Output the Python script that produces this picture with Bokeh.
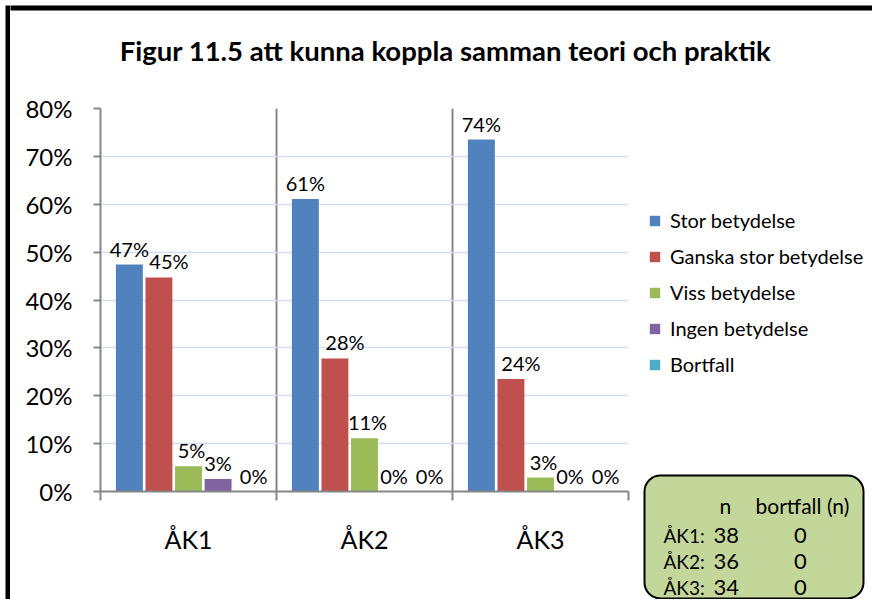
from bokeh.plotting import figure
from bokeh.layouts import row, column
from bokeh.models import (ColumnDataSource, FixedTicker, Legend, LegendItem, Label,
                          BoxAnnotation, Range1d)
from bokeh.core.properties import value
from bokeh.embed import file_html
from bokeh.resources import INLINE

# ---------------- data ----------------
title_text = "Figur 11.5 att kunna koppla samman teori och praktik"
categories = ["ÅK1", "ÅK2", "ÅK3"]
series_names = ["Stor betydelse", "Ganska stor betydelse", "Viss betydelse",
                "Ingen betydelse", "Bortfall"]
stor = [47.4, 61.1, 73.5]
ganska = [44.7, 27.8, 23.5]
viss = [5.3, 11.1, 2.9]
ingen = [2.6, 0.0, 0.0]
bortfall = [0.0, 0.0, 0.0]
y_ticks = [0, 10, 20, 30, 40, 50, 60, 70, 80]
y_tick_labels = ["0%", "10%", "20%", "30%", "40%", "50%", "60%", "70%", "80%"]
n_header = "n"
bortfall_header = "bortfall (n)"
n_values = [38, 36, 34]
bortfall_n = [0, 0, 0]

# ---------------- style ----------------
FONT = "Lato"
colors = ["#4f81bd", "#c0504d", "#9bbb59", "#8064a2", "#4bacc6"]
label_nudge = [0, 10, 3, 0, 6]
AXIS_GRAY = "#868686"
GRID_BLUE = "#d3ddf0"
BOX_GREEN = "#c4d79b"


def bare(fig):
    fig.axis.visible = False
    fig.grid.visible = False
    fig.outline_line_color = None
    fig.background_fill_color = "white"
    fig.border_fill_color = "white"
    fig.frame_align = False
    return fig


def scr(**kw):
    return {k + "_units": "screen" for k in kw} | kw


# ---- left edge (black frame line of the chart) ----
p_edge = bare(figure(width=10, height=599, x_range=Range1d(0, 1), y_range=Range1d(0, 1),
                     output_backend="svg", toolbar_location=None, min_border=0))
p_edge.add_layout(BoxAnnotation(**scr(left=5, right=10, top=594, bottom=-10),
                                fill_color="black", fill_alpha=1, line_color=None))

# ---- top strip: frame line + title ----
p_top = bare(figure(width=862, height=80, x_range=Range1d(0, 1), y_range=Range1d(0, 1),
                    output_backend="svg", toolbar_location=None, min_border=0))
p_top.add_layout(BoxAnnotation(**scr(left=-10, right=900, top=75, bottom=70),
                               fill_color="black", fill_alpha=1, line_color=None))
p_top.add_layout(Label(**scr(x=435, y=30), text=title_text, text_font=FONT,
                       text_font_style="bold", text_font_size="27.5px",
                       text_align="center", text_baseline="alphabetic",
                       text_color="black"))

# ---- main chart ----
p = figure(width=626, height=519, x_range=Range1d(0, 3), y_range=Range1d(0, 80),
           output_backend="svg", toolbar_location=None, title=None,
           min_border_left=90, min_border_right=8,
           min_border_top=28, min_border_bottom=108)
p.frame_align = False
p.outline_line_color = None
p.background_fill_color = "white"
p.border_fill_color = "white"

p.yaxis.ticker = FixedTicker(ticks=y_ticks)
p.yaxis.major_label_overrides = {t: l for t, l in zip(y_ticks, y_tick_labels)}
p.yaxis.major_label_text_font = FONT
p.yaxis.major_label_text_font_size = "24px"
p.yaxis.major_label_text_color = "black"
p.yaxis.major_tick_out = 7
p.yaxis.major_tick_in = 0
p.yaxis.minor_tick_line_color = None
p.yaxis.major_tick_line_color = AXIS_GRAY
p.yaxis.major_tick_line_width = 2
p.yaxis.axis_line_color = AXIS_GRAY
p.yaxis.axis_line_width = 2
p.yaxis.major_label_standoff = 21

centers = [i + 0.5 for i in range(len(categories))]
bounds = [float(i) for i in range(len(categories) + 1)]
p.xaxis.ticker = FixedTicker(ticks=centers, minor_ticks=bounds)
p.xaxis.major_label_overrides = {c: n for c, n in zip(centers, categories)}
p.xaxis.major_label_text_font = FONT
p.xaxis.major_label_text_font_size = "25px"
p.xaxis.major_label_text_color = "black"
p.xaxis.major_tick_line_color = None
p.xaxis.major_tick_out = 0
p.xaxis.major_tick_in = 0
p.xaxis.minor_tick_out = 9
p.xaxis.minor_tick_in = 0
p.xaxis.minor_tick_line_color = AXIS_GRAY
p.xaxis.minor_tick_line_width = 2
p.xaxis.axis_line_color = AXIS_GRAY
p.xaxis.axis_line_width = 2
p.xaxis.major_label_standoff = 23

p.xgrid.ticker = FixedTicker(ticks=bounds[1:])
p.xgrid.grid_line_color = AXIS_GRAY
p.xgrid.grid_line_width = 2
p.ygrid.ticker = FixedTicker(ticks=y_ticks[1:])
p.ygrid.grid_line_color = GRID_BLUE
p.ygrid.grid_line_width = 1.5

all_series = [stor, ganska, viss, ingen, bortfall]
pitch = 0.168
bar_w = 0.153
for j, (name, vals, col) in enumerate(zip(series_names, all_series, colors)):
    xs = [c + (j - 2) * pitch for c in centers]
    src = ColumnDataSource(dict(x=xs, top=vals,
                                lab=[f"{int(v + 0.5)}%" for v in vals]))
    p.vbar(x="x", top="top", width=bar_w, source=src,
           fill_color=col, line_color=None)
    p.text(x="x", y="top", text="lab", source=src, x_offset=label_nudge[j],
           y_offset=-16, text_align="center", text_baseline="alphabetic",
           text_font=value(FONT), text_font_size="20px", text_color="black")

# ---- side: legend + n box ----
p_side = bare(figure(width=236, height=519, x_range=Range1d(0, 1), y_range=Range1d(0, 1),
                     output_backend="svg", toolbar_location=None, min_border=0))
items = []
for name, col in zip(series_names, colors):
    # legend proxy: a zero-height bar that draws nothing in the panel itself
    proxy = p_side.vbar(x=[0.5], top=[0], width=0.1, fill_color=col, line_color=None)
    items.append(LegendItem(label=name, renderers=[proxy]))
legend = Legend(items=items, location=(12, 223), glyph_width=13, glyph_height=13,
                label_text_font=FONT, label_text_font_size="20px",
                label_text_color="black", label_standoff=9, label_height=20,
                spacing=12, padding=0, margin=0, border_line_color=None,
                background_fill_alpha=0)
p_side.add_layout(legend)

p_side.add_layout(BoxAnnotation(**scr(left=8, right=227, top=124, bottom=1),
                                fill_color=BOX_GREEN, fill_alpha=1, line_color="black",
                                line_alpha=1, line_width=2, border_radius=16))
p_side.add_layout(Label(**scr(x=83, y=94), text=n_header, text_font=FONT,
                        text_font_size="21px", text_baseline="alphabetic",
                        text_color="black"))
p_side.add_layout(Label(**scr(x=119, y=94), text=bortfall_header, text_font=FONT,
                        text_font_size="21px", text_baseline="alphabetic",
                        text_color="black"))
row_y = [64, 38, 12]
for k in range(len(categories)):
    p_side.add_layout(Label(**scr(x=27, y=row_y[k]), text=categories[k] + ":",
                            text_font=FONT, text_font_size="19px",
                            text_baseline="alphabetic", text_color="black"))
    p_side.add_layout(Label(**scr(x=77, y=row_y[k]), text=str(n_values[k]),
                            text_font=FONT, text_font_size="22px",
                            text_baseline="alphabetic", text_color="black"))
    p_side.add_layout(Label(**scr(x=164, y=row_y[k]), text=str(bortfall_n[k]),
                            text_font=FONT, text_font_size="22px", text_align="center",
                            text_baseline="alphabetic", text_color="black"))

layout = row(p_edge, column(p_top, row(p, p_side, spacing=0), spacing=0), spacing=0)
open("out.html", "w").write(file_html(layout, INLINE))
